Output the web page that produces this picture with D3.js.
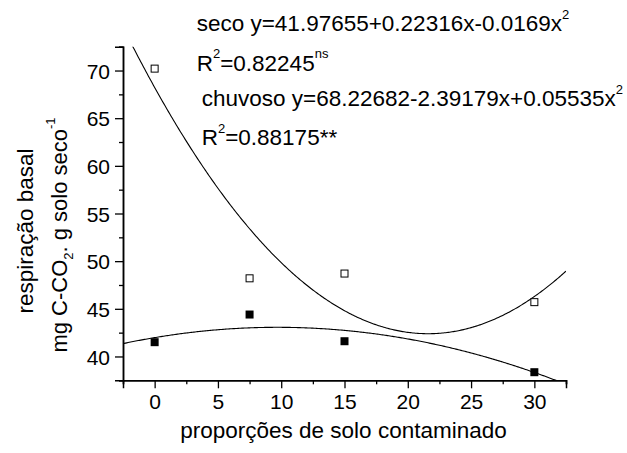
<!DOCTYPE html>
<html><head><meta charset="utf-8">
<script src="https://cdn.jsdelivr.net/npm/d3@7"></script>
<style>body{margin:0;background:#fff}svg{display:block}text{font-family:"Liberation Sans",Arial,sans-serif;fill:#000}</style>
</head><body><svg id="c" width="627" height="453"></svg>
<script>
const proportions = [0, 7.5, 15, 30];
const chuvosoValues = [70.2, 48.2, 48.7, 45.7];
const secoValues = [41.5, 44.4, 41.6, 38.35];
const chuvosoCoef = [68.22682, -2.39179, 0.05535];
const secoCoef = [41.97655, 0.22316, -0.0115];
const xTicks = [0, 5, 10, 15, 20, 25, 30];
const yTicks = [40, 45, 50, 55, 60, 65, 70];
const xDomain = [-2.5, 32.5];
const yDomain = [37.5, 72.5];

const svg = d3.select("#c");
const L = 123, R = 566, T = 46.7, B = 380.3;
const x = d3.scaleLinear().domain(xDomain).range([L, R]);
const y = d3.scaleLinear().domain(yDomain).range([B, T]);

svg.append("defs").append("clipPath").attr("id", "clip")
  .append("rect").attr("x", L).attr("y", T).attr("width", R - L).attr("height", B - T);

const sample = d3.range(0, 351).map(i => xDomain[0] + i * 0.1);
const quad = c => v => c[0] + c[1] * v + c[2] * v * v;
const line = d3.line().x(d => x(d[0])).y(d => y(d[1]));
[chuvosoCoef, secoCoef].forEach(c => {
  const f = quad(c);
  svg.append("path").attr("clip-path", "url(#clip)")
    .attr("d", line(sample.map(v => [v, f(v)])))
    .attr("fill", "none").attr("stroke", "#000").attr("stroke-width", 1.1);
});

const s = 7;
svg.append("g").selectAll("rect").data(proportions.map((p, i) => [p, chuvosoValues[i]])).join("rect")
  .attr("x", d => x(d[0]) - s / 2).attr("y", d => y(d[1]) - s / 2)
  .attr("width", s).attr("height", s).attr("fill", "#fff").attr("stroke", "#000").attr("stroke-width", 1);
svg.append("g").selectAll("rect").data(proportions.map((p, i) => [p, secoValues[i]])).join("rect")
  .attr("x", d => x(d[0]) - (s + 1) / 2).attr("y", d => y(d[1]) - (s + 1) / 2)
  .attr("width", s + 1).attr("height", s + 1).attr("fill", "#000");

const xMinor = d3.range(xDomain[0], xDomain[1] + 0.01, 2.5).filter(v => !xTicks.includes(v));
const yMinor = d3.range(yDomain[0], yDomain[1] + 0.01, 2.5).filter(v => !yTicks.includes(v));

const gx = svg.append("g").attr("transform", `translate(0,${B})`);
gx.call(d3.axisBottom(x).tickValues(xMinor).tickSize(4).tickFormat(""));
gx.call(g => g.append("g").call(d3.axisBottom(x).tickValues(xTicks).tickSize(8).tickPadding(6)));
const gy = svg.append("g").attr("transform", `translate(${L},0)`);
gy.call(d3.axisLeft(y).tickValues(yMinor).tickSize(4).tickFormat(""));
gy.call(g => g.append("g").call(d3.axisLeft(y).tickValues(yTicks).tickSize(8).tickPadding(5)));
svg.selectAll(".domain").attr("stroke", "#000").attr("stroke-width", 1.5);
svg.selectAll(".tick line").attr("stroke", "#000").attr("stroke-width", 1.3);
svg.selectAll(".tick text").attr("font-size", 21).attr("fill", "#000");
gy.selectAll(".tick text").attr("dy", "0.36em");

function rich(parent, px, py, size, segs, anchor, transform) {
  const t = parent.append("text").attr("font-size", size).attr("text-anchor", anchor || "start");
  if (transform) t.attr("transform", transform); else t.attr("x", px).attr("y", py);
  let cur = 0;
  const small = Math.round(size * 0.57);
  segs.forEach(([str, mode]) => {
    const shift = mode === 1 ? -size * 0.55 : mode === -1 ? size * 0.28 : 0;
    t.append("tspan").attr("dy", shift - cur).attr("font-size", mode ? small : size).text(str);
    cur = shift;
  });
  return t;
}

const fs = 22.5;
rich(svg, 196.7, 31, fs, [["seco y=41.97655+0.22316x-0.0169x", 0], ["2", 1]]);
rich(svg, 196.7, 70.5, fs, [["R", 0], ["2", 1], ["=0.82245", 0], ["ns", 1]]);
rich(svg, 201.7, 106, fs, [["chuvoso y=68.22682-2.39179x+0.05535x", 0], ["2", 1]]);
rich(svg, 201.7, 145, fs, [["R", 0], ["2", 1], ["=0.88175**", 0]]);

svg.append("text").attr("x", 343.5).attr("y", 438).attr("text-anchor", "middle")
  .attr("font-size", 22.5).text("proporções de solo contaminado");
svg.append("text").attr("transform", "translate(33,231) rotate(-90)").attr("text-anchor", "middle")
  .attr("font-size", 22.5).text("respiração basal");
rich(svg, 0, 0, 22, [["mg C-CO", 0], ["2", -1], [". g solo seco", 0], ["-1", 1]], "middle", "translate(67,235) rotate(-90)");
</script></body></html>
